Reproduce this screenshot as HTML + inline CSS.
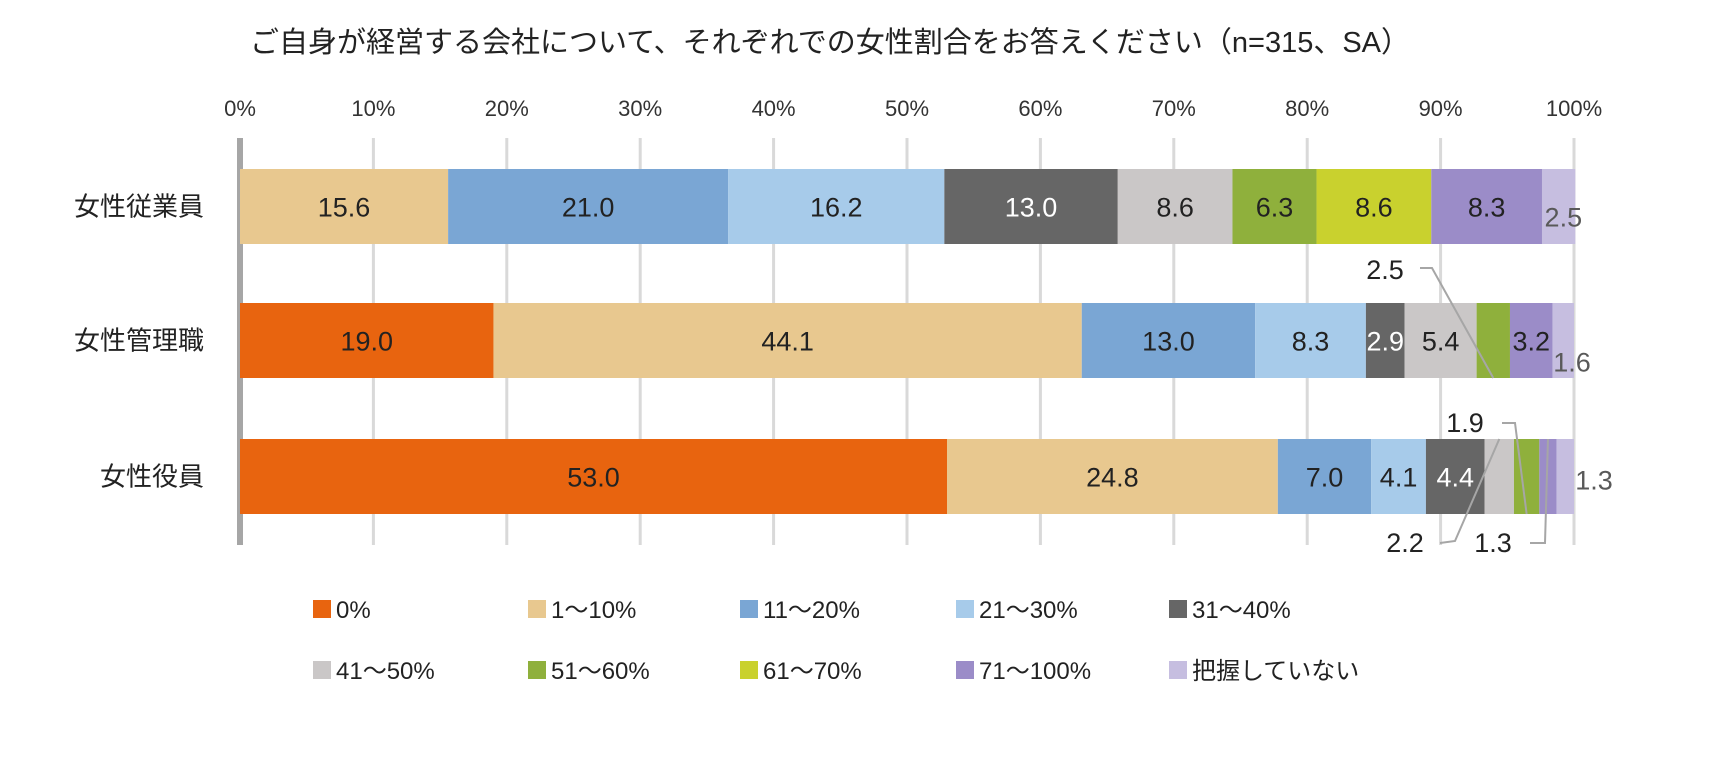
<!DOCTYPE html>
<html><head><meta charset="utf-8"><style>
html,body{margin:0;padding:0;background:#fff;}
svg text{font-family:"Liberation Sans","Noto Sans CJK JP",sans-serif;}
</style></head><body>
<svg id="chart" width="1733" height="759" viewBox="0 0 1733 759" xmlns="http://www.w3.org/2000/svg">
<text x="830" y="52" text-anchor="middle" font-size="29" fill="#222">ご自身が経営する会社について、それぞれでの女性割合をお答えください（n=315、SA）</text>
<g id="grid"></g><g id="bars"></g><g id="labels"></g><g id="legend"></g>
</svg>
<script>
const categories = ["女性従業員","女性管理職","女性役員"];
const seriesNames = ["0%","1～10%","11～20%","21～30%","31～40%","41～50%","51～60%","61～70%","71～100%","把握していない"];
const rowEmployees = [0,15.6,21.0,16.2,13.0,8.6,6.3,8.6,8.3,2.5];
const rowManagers = [19.0,44.1,13.0,8.3,2.9,5.4,2.5,0,3.2,1.6];
const rowOfficers = [53.0,24.8,7.0,4.1,4.4,2.2,1.9,0,1.3,1.3];
const rows = [rowEmployees,rowManagers,rowOfficers];
const tickLabels = ["0%","10%","20%","30%","40%","50%","60%","70%","80%","90%","100%"];
const colors = ["#e8640f","#e8c88f","#7aa6d4","#a7cbea","#666666","#cac7c7","#8fb03c","#c9d12e","#9b8cc8","#c6bee0"];
const NS="http://www.w3.org/2000/svg";
const X0=240,X1=1574,barTops=[169,303,439],barH=75;
function xs(v){return X0+(X1-X0)*v/100;}
function mk(tag,attrs,parent,txt){const e=document.createElementNS(NS,tag);for(const k in attrs)e.setAttribute(k,attrs[k]);if(txt!==undefined)e.textContent=txt;parent.appendChild(e);return e;}
const grid=document.getElementById('grid'),bars=document.getElementById('bars'),labels=document.getElementById('labels'),legend=document.getElementById('legend');
tickLabels.forEach((t,i)=>{const x=xs(i*10);
 if(i>0){const l=mk('line',{x1:x,x2:x,y1:138,y2:545,stroke:'#d9d9d9','stroke-width':3},grid);
 
 }
 const tx=mk('text',{x:x,y:116,'text-anchor':'middle','font-size':22,fill:'#333'},grid,t);
 
 
});
const ax=mk('line',{x1:X0,x2:X0,y1:138,y2:545,stroke:'#a6a6a6','stroke-width':6},grid);


rows.forEach((row,r)=>{
 const y=barTops[r];
 const cl=mk('text',{x:204,y:y+barH/2+9,'text-anchor':'end','font-size':26,fill:'#222'},labels,categories[r]);
 
 
 let acc=0;
 row.forEach((v,i)=>{
  if(v<=0){return;}
  const xa=xs(acc),xb=xs(acc+v);acc+=v;
  const rc=mk('rect',{x:xa,y:y,width:xb-xa,height:barH,fill:colors[i]},bars);
  
  
  const cx=(xa+xb)/2;
  let lx=cx,ly=y+barH/2+10,fill=(i===4)?'#fff':'#222';
  let leader=null;
  if(i===9){lx=xb+(r===0?-12:(r===1?-2:20));ly=(r===0)?y+barH/2+20:(r===1?y+barH/2+31:y+barH/2+13);fill='#595959';}
  else if(v<2.6){
   if(r===1&&i===6){lx=1385;ly=279;leader=[[1420,268],[1432,268],[cx,y+barH]];}
   else if(r===2&&i===5){lx=1405;ly=552;leader=[[1440,543],[1455,541],[cx,y]];}
   else if(r===2&&i===6){lx=1465;ly=432;leader=[[1502,423],[1515,423],[cx,y+barH]];}
   else if(r===2&&i===8){lx=1493;ly=552;leader=[[1530,543],[1545,543],[cx,y]];}
  }
  if(leader){const p=mk('polyline',{points:leader.map(q=>q.join(',')).join(' '),fill:'none',stroke:'#a6a6a6','stroke-width':2},labels);
   
   }
  const t=mk('text',{x:lx,y:ly,'text-anchor':'middle','font-size':27,fill:fill},labels,v.toFixed(1));
  
  
 });
});
const legX=[313,528,740,956,1169];
seriesNames.forEach((n,i)=>{
 const x=legX[i%5],y=(i<5)?609:670;
 const g=mk('g',{},legend);
 
 
 mk('rect',{x:x,y:y-9,width:18,height:18,fill:colors[i]},g);
 mk('text',{x:x+23,y:y+9,'font-size':24,fill:'#222'},g,n);
});
</script>
</body></html>
